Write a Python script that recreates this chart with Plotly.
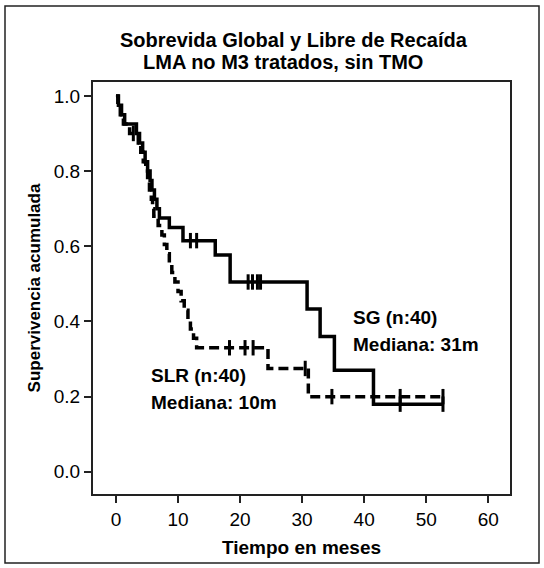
import plotly.graph_objects as go

# Overall survival (SG) - solid
sg_time = [0, 0.4, 0.9, 1.4, 3.3, 3.8, 4.3, 4.7, 5.1, 5.5, 5.8, 6.2, 6.6, 7.0, 8.6, 10.8, 16.0, 18.4, 30.8, 32.9, 35.2, 41.5, 52.7]
sg_surv = [1.0, 0.975, 0.95, 0.925, 0.9, 0.875, 0.85, 0.825, 0.8, 0.775, 0.75, 0.725, 0.7, 0.675, 0.65, 0.615, 0.577, 0.505, 0.433, 0.36, 0.27, 0.18, 0.18]
sg_cens_time = [12.0, 13.0, 21.3, 22.0, 22.8, 23.3, 45.8, 52.7]
sg_cens_surv = [0.615, 0.615, 0.505, 0.505, 0.505, 0.505, 0.18, 0.18]

# Relapse-free survival (SLR) - dashed
slr_time = [0, 0.3, 0.7, 1.2, 2.2, 3.6, 4.0, 4.4, 4.8, 5.1, 5.4, 5.7, 5.9, 6.1, 6.8, 7.4, 7.8, 8.2, 8.6, 9.0, 9.5, 10.0, 10.5, 11.0, 11.6, 12.0, 12.5, 13.0, 24.5, 31.0, 52.7]
slr_surv = [1.0, 0.975, 0.95, 0.925, 0.9, 0.875, 0.85, 0.825, 0.8, 0.775, 0.75, 0.725, 0.7, 0.68, 0.655, 0.63, 0.605, 0.58, 0.555, 0.53, 0.505, 0.48, 0.455, 0.43, 0.405, 0.38, 0.355, 0.33, 0.275, 0.2, 0.2]
slr_cens_time = [2.8, 18.3, 20.8, 22.1, 30.5, 34.8, 45.8, 52.7]
slr_cens_surv = [0.9, 0.33, 0.33, 0.33, 0.275, 0.2, 0.2, 0.2]

x_ticks = [0, 10, 20, 30, 40, 50, 60]
y_ticks = [0.0, 0.2, 0.4, 0.6, 0.8, 1.0]

title_lines = ["Sobrevida Global y Libre de Recaída", "LMA no M3 tratados, sin TMO"]
x_title = "Tiempo en meses"
y_title = "Supervivencia acumulada"

FONT = "Liberation Sans, Arial, sans-serif"

fig = go.Figure()
fig.add_trace(go.Scatter(x=slr_time, y=slr_surv, mode="lines", line_shape="hv",
                         line=dict(color="black", width=3.5, dash="10px,5px"), showlegend=False))
fig.add_trace(go.Scatter(x=sg_time, y=sg_surv, mode="lines", line_shape="hv",
                         line=dict(color="black", width=3.5), showlegend=False))
fig.add_trace(go.Scatter(x=slr_cens_time, y=slr_cens_surv, mode="markers",
                         marker=dict(symbol="line-ns", size=11, line=dict(color="black", width=3)),
                         showlegend=False))
fig.add_trace(go.Scatter(x=sg_cens_time, y=sg_cens_surv, mode="markers",
                         marker=dict(symbol="line-ns", size=11, line=dict(color="black", width=3)),
                         showlegend=False))

ann_font = dict(family=FONT, size=19, color="black")
title_font = dict(family=FONT, size=20, color="black")
annotations = [
    dict(text="<b>SG (n:40)</b>", x=37.9, y=0.41, xref="x", yref="y", xanchor="left", yanchor="middle", showarrow=False, font=ann_font),
    dict(text="<b>Mediana: 31m</b>", x=37.9, y=0.338, xref="x", yref="y", xanchor="left", yanchor="middle", showarrow=False, font=ann_font),
    dict(text="<b>SLR (n:40)</b>", x=5.3, y=0.255, xref="x", yref="y", xanchor="left", yanchor="middle", showarrow=False, font=ann_font),
    dict(text="<b>Mediana: 10m</b>", x=5.3, y=0.184, xref="x", yref="y", xanchor="left", yanchor="middle", showarrow=False, font=ann_font),
    dict(text="<b>" + title_lines[0] + "</b>", x=(294 - 93) / 417, y=(494 - 40) / 412, xref="paper", yref="paper",
         xanchor="center", yanchor="middle", showarrow=False, font=title_font),
    dict(text="<b>" + title_lines[1] + "</b>", x=(283 - 93) / 417, y=(494 - 62) / 412, xref="paper", yref="paper",
         xanchor="center", yanchor="middle", showarrow=False, font=title_font),
]

fig.update_layout(
    width=544, height=568,
    margin=dict(l=93, r=34, t=82, b=74),
    paper_bgcolor="white", plot_bgcolor="white",
    font=dict(family=FONT, size=19, color="black"),
    annotations=annotations,
    hovermode=False,
    shapes=[dict(type="rect", xref="paper", yref="paper",
                 x0=(5 - 93) / 417, x1=(539 - 93) / 417, y0=(494 - 563) / 412, y1=(494 - 6) / 412,
                 line=dict(color="#222", width=1.5))],
)
fig.update_xaxes(range=[-3.7, 63.5], tickvals=x_ticks, ticktext=[str(v) for v in x_ticks],
                 ticks="outside", ticklen=7, tickwidth=2, tickcolor="#222",
                 showline=True, linecolor="#222", linewidth=2, mirror=True,
                 showgrid=False, zeroline=False, tickfont=dict(size=19),
                 title=dict(text="<b>" + x_title + "</b>", font=dict(family=FONT, size=19), standoff=12))
fig.update_yaxes(range=[-0.059, 1.037], tickvals=y_ticks, ticktext=["%.1f" % v for v in y_ticks],
                 ticks="outside", ticklen=7, tickwidth=2, tickcolor="#222",
                 showline=True, linecolor="#222", linewidth=2, mirror=True,
                 showgrid=False, zeroline=False, tickfont=dict(size=19),
                 title=dict(text="<b>" + y_title + "</b>", font=dict(family=FONT, size=17), standoff=9))

fig.write_html("out.html", config={"displayModeBar": False},
               post_script="document.body.style.margin='0';")
